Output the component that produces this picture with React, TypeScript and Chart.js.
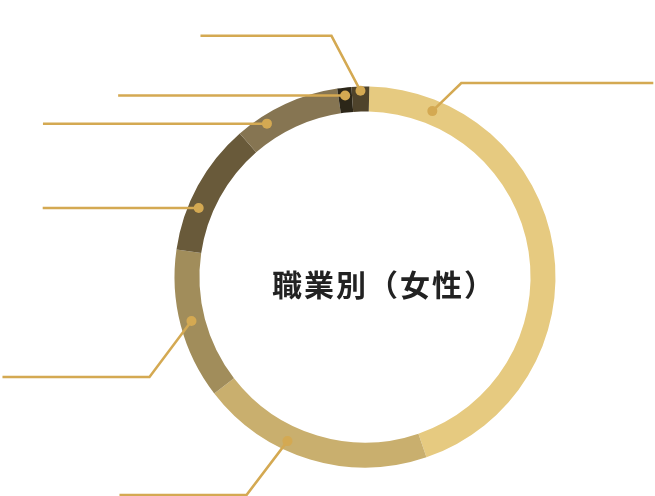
import React, { useEffect, useRef } from "react";
import { Chart, registerables } from "chart.js";

Chart.register(...registerables);

// ---- data ----
const categories = ["項目1", "項目2", "項目3", "項目4", "項目5", "項目6", "項目7"];
const shares = [44.5, 19.8, 12.8, 11.3, 9.1, 1.2, 1.5];
const segmentColors = ["#e6ca80", "#c9af6e", "#a18d5b", "#695a3a", "#867552", "#2c2618", "#4f432b"];
const centerTitle = "職業別（女性）";

// leader-line styling (relative to each arc)
const anchorFraction = [0.13, 0.62, 0.51, 0.35, 0.26, 0.5, 0.5];
const anchorRadial = [0.54, 0.64, 0.54, 0.58, 0.66, 0.68, 0.83];
const elbowDX = [29, -41, -42, 0, 0, 0, -29];
const elbowDY = [-28, 54, 56, 0, 0, 0, -55];
const runLength = [192, -127, -147, -156, -224, -227, -131];

const LINE_COLOR = "#d4a952";

const leaderPlugin = {
  id: "leaders",
  afterDatasetsDraw(chart: any) {
    const ctx = chart.ctx;
    const meta = chart.getDatasetMeta(0);
    ctx.save();
    meta.data.forEach((arc: any, i: number) => {
      const p = arc.getProps(["x", "y", "startAngle", "endAngle", "innerRadius", "outerRadius"], true);
      const a = p.startAngle + anchorFraction[i] * (p.endAngle - p.startAngle);
      const r = p.innerRadius + anchorRadial[i] * (p.outerRadius - p.innerRadius);
      const px = p.x + Math.cos(a) * r;
      const py = p.y + Math.sin(a) * r;
      const ex = px + elbowDX[i];
      const ey = py + elbowDY[i];
      ctx.beginPath();
      ctx.moveTo(px, py);
      if (elbowDX[i] !== 0 || elbowDY[i] !== 0) ctx.lineTo(ex, ey);
      ctx.lineTo(ex + runLength[i], ey);
      ctx.strokeStyle = LINE_COLOR;
      ctx.lineWidth = 2.5;
      ctx.lineJoin = "miter";
      ctx.stroke();
      ctx.beginPath();
      ctx.arc(px, py, 5, 0, Math.PI * 2);
      ctx.fillStyle = LINE_COLOR;
      ctx.fill();
    });
    // center title
    const arc0 = meta.data[0];
    if (arc0) {
      const cx = arc0.x;
      const cy = arc0.y;
      ctx.font = '600 30px "Noto Sans CJK JP", "Noto Sans CJK SC", sans-serif';
      ctx.fillStyle = "#222222";
      ctx.textBaseline = "alphabetic";
      ctx.textAlign = "left";
      let x = cx - 93;
      const spacing = 2;
      for (const ch of centerTitle) {
        ctx.fillText(ch, x, cy + 19);
        x += ctx.measureText(ch).width + spacing;
      }
    }
    ctx.restore();
  },
};

export default function App() {
  const ref = useRef<HTMLCanvasElement | null>(null);
  useEffect(() => {
    if (!ref.current) return;
    const chart = new Chart(ref.current, {
      type: "doughnut",
      data: {
        labels: categories,
        datasets: [
          {
            data: shares,
            backgroundColor: segmentColors,
            borderWidth: 0,
            hoverOffset: 0,
          },
        ],
      },
      options: {
        animation: false,
        responsive: false,
        rotation: 1.3,
        cutout: "86.9%",
        layout: { padding: { left: 174.5, right: 99.5, top: 86.5, bottom: 28.5 } },
        plugins: {
          legend: { display: false },
          tooltip: { enabled: false },
        },
      },
      plugins: [leaderPlugin],
    });
    return () => chart.destroy();
  }, []);
  return (
    <div style={{ position: "fixed", left: 0, top: 0, width: 655, height: 496, background: "#ffffff" }}>
      <canvas ref={ref} width={655} height={496} style={{ display: "block", width: 655, height: 496 }} />
    </div>
  );
}
